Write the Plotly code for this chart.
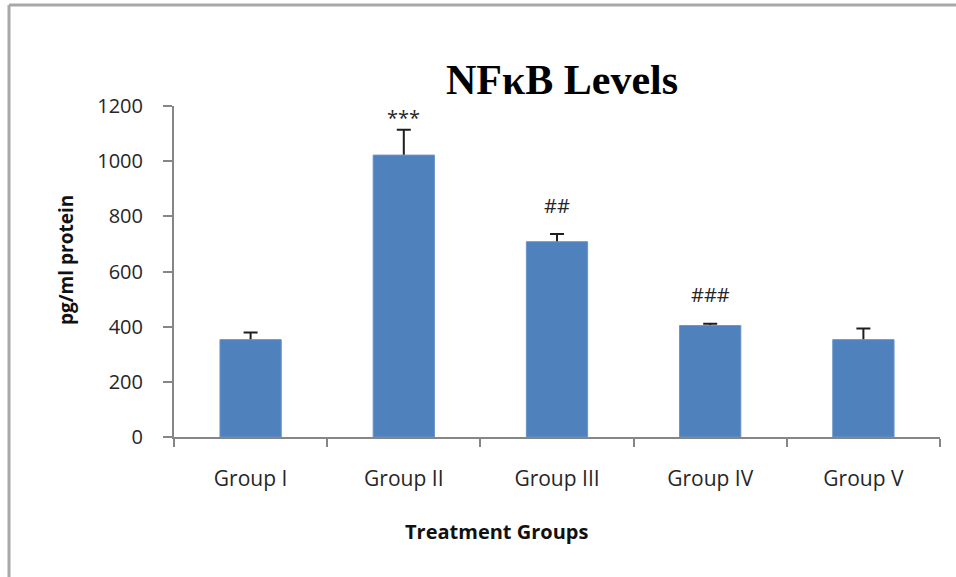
import plotly.graph_objects as go

# ---- data ----
groups = ["Group I", "Group II", "Group III", "Group IV", "Group V"]
means = [353, 1022, 708, 404, 353]
sds = [26, 92, 28, 7, 40]
sig_labels = ["", "***", "##", "###", ""]
sig_y = [None, 1160, 840, 515, None]
y_ticks = [0, 200, 400, 600, 800, 1000, 1200]

# ---- layout geometry ----
W, H = 956, 577
L, R, T, B = 174, 16, 106, 140
PW, PH = W - L - R, H - T - B


def px(xp):
    return (xp - L) / PW


def py(yp):
    return (H - B - yp) / PH


fig = go.Figure()
# error bars carried by a transparent bar trace drawn underneath,
# so the lower half is hidden by the visible bars
fig.add_trace(go.Bar(
    x=groups, y=means, width=0.4,
    marker=dict(color="rgba(0,0,0,0)", line=dict(width=0)),
    error_y=dict(type="data", array=sds, symmetric=True,
                 color="#1E1E1E", thickness=2, width=7),
    showlegend=False, hoverinfo="skip",
))
fig.add_trace(go.Bar(
    x=groups, y=means, width=0.4,
    marker=dict(color="#4F81BD", line=dict(color="#6A94C8", width=1)),
    showlegend=False,
))

annotations = []
for g, lab, yv in zip(groups, sig_labels, sig_y):
    if lab:
        annotations.append(dict(x=g, y=yv, xref="x", yref="y", text=lab,
                                showarrow=False, yanchor="middle",
                                font=dict(family="Open Sans", size=20, color="#262626")))

annotations += [
    dict(x=px(562), y=py(80), xref="paper", yref="paper", text="<b>NFκB Levels</b>",
         showarrow=False, xanchor="center", yanchor="middle",
         font=dict(family="Liberation Serif", size=42, color="#000000")),
    dict(x=px(496), y=py(531), xref="paper", yref="paper", text="<b>Treatment Groups</b>",
         showarrow=False, xanchor="center", yanchor="middle",
         font=dict(family="Open Sans", size=20, color="#111111")),
    dict(x=px(66), y=py(260), xref="paper", yref="paper", text="<b>pg/ml protein</b>",
         showarrow=False, xanchor="center", yanchor="middle", textangle=-90,
         font=dict(family="Open Sans", size=19, color="#111111")),
]

shapes = [
    dict(type="line", xref="paper", yref="paper", x0=px(9), x1=px(W + 5), y0=py(5), y1=py(5),
         line=dict(color="#A8A8A8", width=3)),
    dict(type="line", xref="paper", yref="paper", x0=px(9), x1=px(9), y0=py(5), y1=py(H + 5),
         line=dict(color="#A8A8A8", width=3)),
]

fig.update_layout(
    width=W, height=H,
    margin=dict(l=L, r=R, t=T, b=B, autoexpand=False),
    paper_bgcolor="white", plot_bgcolor="white",
    annotations=annotations, shapes=shapes,
    barmode="overlay",
)
fig.update_xaxes(
    range=[-0.5, 4.5], showline=True, linecolor="#868686", linewidth=2,
    ticks="outside", tickson="boundaries", ticklen=8, tickcolor="#868686", tickwidth=2,
    tickfont=dict(family="Open Sans", size=21, color="#262626"),
    ticklabelstandoff=22, showgrid=False, zeroline=False,
)
fig.update_yaxes(
    range=[0, 1200], tickvals=y_ticks, showline=True, linecolor="#868686", linewidth=2,
    ticks="outside", ticklen=9, tickcolor="#868686", tickwidth=2,
    tickfont=dict(family="Open Sans", size=20, color="#262626"),
    ticklabelstandoff=16, showgrid=False, zeroline=False,
)

fig.write_html("out.html")
